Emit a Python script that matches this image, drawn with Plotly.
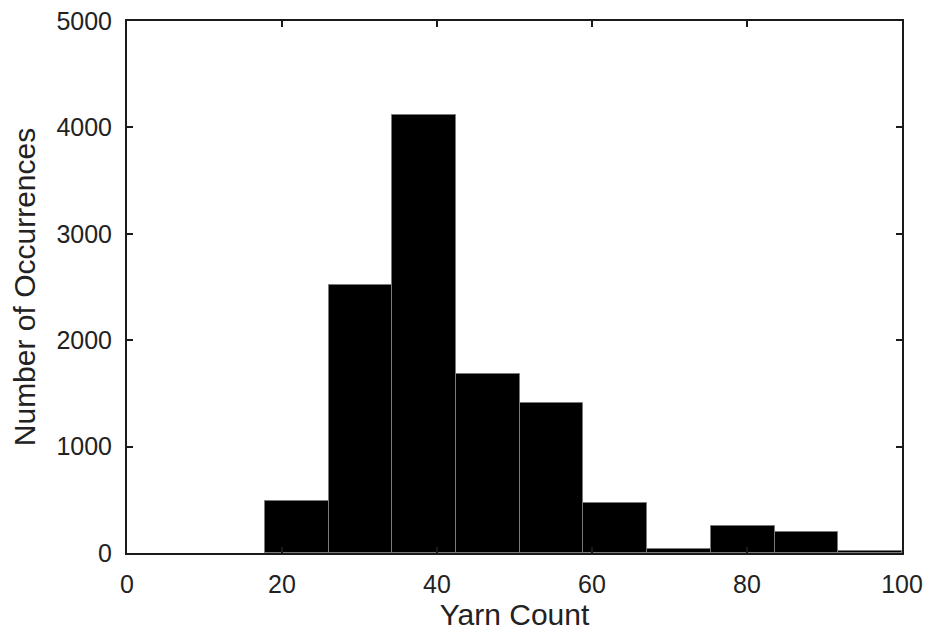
import plotly.graph_objects as go

# Histogram of yarn counts: 10 equal-width bins spanning 17.8 .. 100
bin_start = 17.8
bin_width = 8.22
counts = [490, 2520, 4120, 1680, 1410, 470, 40, 250, 194, 15]

x_ticks = [0, 20, 40, 60, 80, 100]
y_ticks = [0, 1000, 2000, 3000, 4000, 5000]

centers = [bin_start + bin_width * (i + 0.5) for i in range(len(counts))]

fig = go.Figure(
    go.Bar(
        x=centers,
        y=counts,
        width=bin_width,
        marker=dict(color="black", line=dict(color="#7a7a7a", width=1)),
        hoverinfo="x+y",
    )
)

tick_font = dict(family="Liberation Sans, Arial", size=25, color="#222")
title_font = dict(family="Liberation Sans, Arial", size=30, color="#222")

axis_common = dict(
    showline=True,
    linecolor="#1a1a1a",
    linewidth=2,
    mirror="ticks",
    ticks="inside",
    ticklen=6,
    tickwidth=1.5,
    tickcolor="#1a1a1a",
    showgrid=False,
    zeroline=False,
    tickfont=tick_font,
    ticklabeloverflow="allow",
    automargin=False,
)

fig.update_layout(
    width=925,
    height=631,
    margin=dict(l=127, r=23, t=21, b=78),
    paper_bgcolor="white",
    plot_bgcolor="white",
    bargap=0,
    showlegend=False,
    xaxis=dict(
        range=[0, 100],
        tickvals=x_ticks,
        ticktext=[str(v) for v in x_ticks],
        title=dict(text="Yarn Count", font=title_font, standoff=14),
        ticklabelstandoff=8,
        **axis_common,
    ),
    yaxis=dict(
        range=[0, 5000],
        tickvals=y_ticks,
        ticktext=[str(v) for v in y_ticks],
        title=dict(text="Number of Occurrences", font=title_font, standoff=12),
        ticklabelstandoff=8,
        **axis_common,
    ),
)

fig.write_html("out.html")
